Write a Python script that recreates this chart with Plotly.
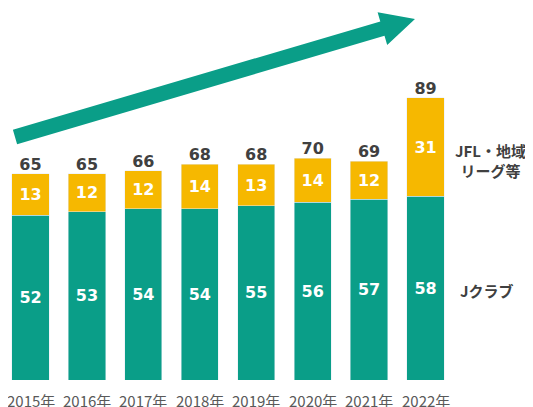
import plotly.graph_objects as go

years = ["2015年", "2016年", "2017年", "2018年", "2019年", "2020年", "2021年", "2022年"]
jclub = [52, 53, 54, 54, 55, 56, 57, 58]
jfl = [13, 12, 12, 14, 13, 14, 12, 31]
totals = [65, 65, 66, 68, 68, 70, 69, 89]

W, H = 533, 407
OFF = 8  # page body margin: screenshot px = figure px + OFF
MT, MB = 0, H - (380 - OFF)
PH = H - MT - MB

GREEN = "#0A9E88"
YELLOW = "#F6B800"
DARK = "#404040"

xs = list(range(len(years)))
unit = 56.43
r0 = -(30.5 - OFF) / unit
r1 = r0 + W / unit

fig = go.Figure()
fig.add_bar(x=xs, y=jclub, marker_color=GREEN, width=0.66,
            text=[str(v) for v in jclub], textposition="inside", insidetextanchor="middle",
            textfont=dict(color="white", size=16, family="DejaVu Sans"), texttemplate="<b>%{text}</b>",
            textangle=0)
fig.add_bar(x=xs, y=jfl, marker_color=YELLOW, width=0.66,
            text=[str(v) for v in jfl], textposition="inside", insidetextanchor="middle",
            textfont=dict(color="white", size=16, family="DejaVu Sans"), texttemplate="<b>%{text}</b>",
            textangle=0)
fig.add_scatter(x=xs, y=totals, mode="text", text=[f"<b>{v}</b>" for v in totals],
                textposition="top center", textfont=dict(color=DARK, size=16, family="DejaVu Sans"),
                cliponaxis=False)

def px(x, y):
    return (x - OFF) / W, 1 - (y - OFF) / PH

pts = [(12.9, 129.8), (380.3, 21.4), (377.6, 12.3), (415, 19), (387.2, 44.9), (384.5, 35.8), (17.1, 144.2)]
path = "M " + " L ".join(f"{px(a, b)[0]:.5f},{px(a, b)[1]:.5f}" for a, b in pts) + " Z"
fig.add_shape(type="path", path=path, xref="paper", yref="paper", fillcolor=GREEN, line=dict(width=0))

ax, ay = px(490, 160)
fig.add_annotation(x=ax, y=ay, xref="paper", yref="paper", showarrow=False, xanchor="center", yanchor="middle",
                   text="<b>JFL・地域<br>リーグ等</b>", font=dict(size=15, color=DARK, family="Noto Sans CJK JP"),
                   align="center")
bx, by = px(487, 290)
fig.add_annotation(x=bx, y=by, xref="paper", yref="paper", showarrow=False, xanchor="center", yanchor="middle",
                   text="<b>Jクラブ</b>", font=dict(size=15, color=DARK, family="Noto Sans CJK JP"))

_, ly = px(0, 388)
for xv, lab in zip(xs, years):
    fig.add_annotation(x=xv, y=ly, xref="x", yref="paper", showarrow=False, xanchor="center", yanchor="top",
                       text=lab, font=dict(size=15, color="#595959", family="Noto Sans CJK JP"))

fig.update_layout(
    width=W, height=H, barmode="stack", showlegend=False,
    margin=dict(l=0, r=0, t=MT, b=MB),
    paper_bgcolor="white", plot_bgcolor="white",
    font=dict(family="Noto Sans CJK JP"),
    xaxis=dict(range=[r0, r1], showgrid=False, zeroline=False, showline=False,
               showticklabels=False, ticks=""),
    yaxis=dict(range=[0, PH / 3.17], visible=False),
)
fig.write_html("out.html")
